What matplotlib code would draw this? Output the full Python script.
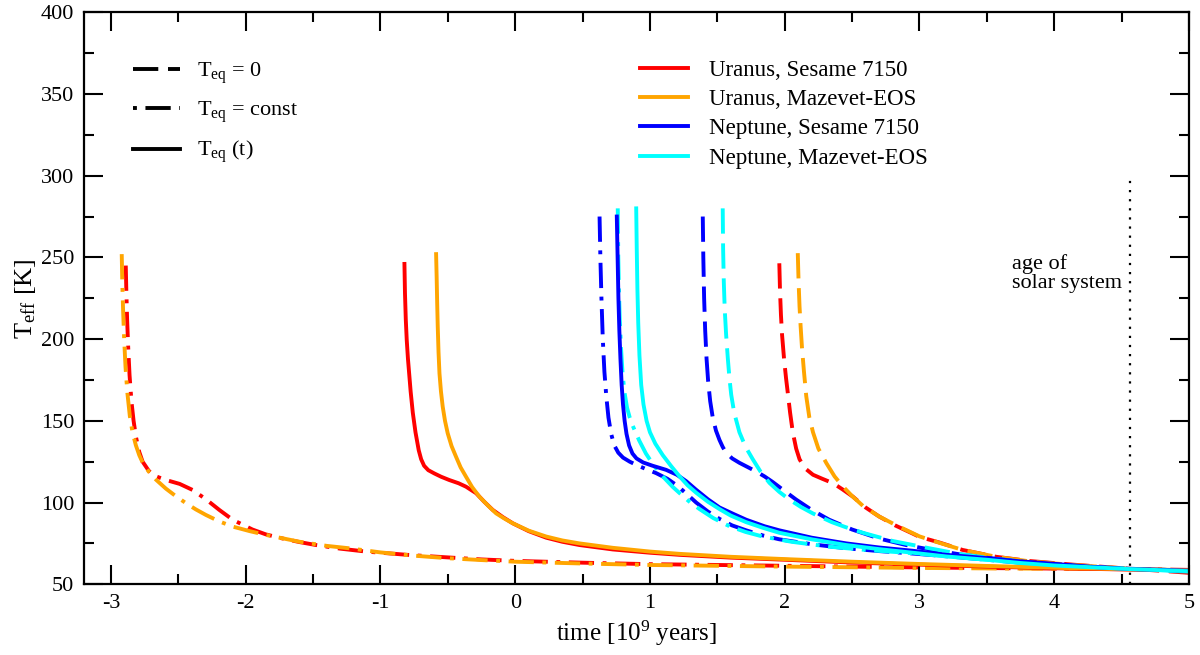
import matplotlib
matplotlib.use('Agg')
import matplotlib.pyplot as plt
from matplotlib.lines import Line2D
from matplotlib.ticker import MultipleLocator

plt.rcParams['font.family'] = 'serif'
plt.rcParams['font.serif'] = ['Liberation Serif', 'DejaVu Serif']
plt.rcParams['mathtext.fontset'] = 'custom'
plt.rcParams['mathtext.rm'] = 'Liberation Serif'
plt.rcParams['mathtext.it'] = 'Liberation Serif:italic'
plt.rcParams['axes.unicode_minus'] = False

# ---- data: time [Gyr], Teff [K] ----
# Uranus, Sesame 7150  (_0: Teq = 0, _c: Teq = const, _t: Teq(t))
ur_ses_0_t = [1.96, 1.965, 1.972, 1.98, 1.995, 2.01, 2.023, 2.04, 2.06, 2.085, 2.11, 2.15, 2.21, 2.28, 2.36, 2.43, 2.506, 2.6, 2.7, 2.82, 2.95, 3.0, 3.15, 3.32, 3.57, 3.82, 4.14, 4.56, 4.8, 5.0]
ur_ses_0_T = [246.4, 230, 215, 203, 188, 176, 167, 155, 143, 133, 126.5, 121, 117, 114.5, 111.8, 108, 103.6, 97, 91.5, 86, 81, 79, 75.5, 71, 66.8, 64.2, 62, 59.5, 58.2, 57]
ur_ses_c_t = [-2.89, -2.886, -2.88, -2.872, -2.862, -2.848, -2.832, -2.814, -2.79, -2.765, -2.72, -2.68, -2.6, -2.49, -2.394, -2.295, -2.196, -2.097, -1.95, -1.85, -1.726, -1.6, -1.478, -1.3, -1.107, -0.8, -0.513, -0.25, 0, 0.5, 1, 1.5, 2, 2.5, 3, 3.5, 4, 4.56, 5]
ur_ses_c_T = [245, 230, 212, 195, 178, 162, 150, 140, 131, 125, 119.5, 116.5, 114, 111.4, 107.7, 102, 95.5, 89.5, 83.5, 80.5, 78, 75.8, 74, 71.8, 70, 68, 66.5, 65.2, 64.3, 63.2, 62.3, 61.8, 61.3, 60.8, 60.3, 59.9, 59.6, 59.3, 58.8]
ur_ses_t_t = [-0.822, -0.818, -0.812, -0.805, -0.796, -0.787, -0.776, -0.76, -0.74, -0.716, -0.698, -0.676, -0.645, -0.6, -0.55, -0.49, -0.42, -0.365, -0.29, -0.23, -0.167, -0.09, -0.018, 0.1, 0.23, 0.35, 0.477, 0.724, 1.0, 1.22, 1.6, 2, 2.5, 3, 3.5, 4, 4.56, 5]
ur_ses_t_T = [246, 228, 212, 199.5, 188, 179, 168, 155, 143, 132, 126.5, 122.5, 119.8, 117.8, 115.8, 113.8, 111.8, 109.7, 105.7, 100.5, 95.5, 91, 87.3, 82.5, 78.5, 76, 74, 71.3, 69.3, 68, 66.3, 65, 63.3, 62, 60.8, 59.8, 59, 58.5]

# Uranus, Mazevet-EOS
ur_maz_0_t = [2.097, 2.103, 2.11, 2.118, 2.128, 2.143, 2.16, 2.183, 2.21, 2.25, 2.31, 2.37, 2.43, 2.5, 2.58, 2.7, 2.83, 3.0, 3.15, 3.32, 3.57, 3.82, 4.14, 4.56, 5.0]
ur_maz_0_T = [252.6, 235, 220, 208, 195, 180, 165, 152, 143, 133, 124, 116, 110, 104, 98, 91.5, 86, 79.3, 75.3, 71, 66.8, 64, 61.8, 59.5, 58.3]
ur_maz_c_t = [-2.92, -2.916, -2.91, -2.902, -2.892, -2.878, -2.86, -2.84, -2.815, -2.79, -2.765, -2.72, -2.666, -2.592, -2.52, -2.443, -2.37, -2.295, -2.2, -2.097, -1.97, -1.85, -1.6, -1.4, -1.23, -1.0, -0.75, -0.513, -0.25, 0, 0.5, 1, 1.5, 2, 2.5, 3, 3.5, 4, 4.56, 5]
ur_maz_c_T = [252, 235, 218, 200, 183, 167, 153, 143, 135, 129, 124.5, 119, 114, 108.5, 104, 99.6, 95.8, 92.4, 88.6, 85.3, 82.5, 80.2, 76, 73.5, 72, 69.5, 67.5, 66, 64.8, 63.8, 62.7, 61.8, 61.3, 60.8, 60.4, 60, 59.7, 59.5, 59.2, 58.6]
ur_maz_t_t = [-0.587, -0.583, -0.579, -0.575, -0.569, -0.562, -0.551, -0.538, -0.521, -0.501, -0.472, -0.439, -0.405, -0.365, -0.32, -0.266, -0.2, -0.142, -0.08, -0.018, 0.1, 0.23, 0.35, 0.477, 0.724, 1.0, 1.22, 1.6, 2, 2.5, 3, 3.5, 4, 4.56, 5]
ur_maz_t_T = [252, 238, 222, 208, 192, 179, 168, 158.7, 150, 142.4, 134.5, 128, 121.5, 115.8, 109.5, 103.6, 98, 93.4, 90.2, 87.3, 82.8, 79.2, 76.8, 75, 72.3, 70, 68.6, 66.8, 65.4, 63.8, 62.4, 61.2, 60.1, 59.2, 58.6]

# Neptune, Sesame 7150
ne_ses_0_t = [1.392, 1.396, 1.402, 1.41, 1.42, 1.432, 1.447, 1.466, 1.49, 1.516, 1.54, 1.565, 1.61, 1.664, 1.73, 1.788, 1.85, 1.912, 2.0, 2.085, 2.2, 2.33, 2.5, 2.7, 2.9, 3.075, 3.3, 3.57, 3.8, 3.94, 4.2, 4.56, 5.0]
ne_ses_0_T = [275, 250, 225, 205, 188, 174, 162, 152, 144, 138.3, 134, 130.5, 127, 124.3, 121.5, 119, 116, 112.5, 107, 101.8, 95.5, 89.5, 83.5, 78, 74, 71.3, 68.3, 65.5, 63.5, 62.5, 61, 59.5, 58.3]
ne_ses_c_t = [0.626, 0.632, 0.64, 0.65, 0.662, 0.676, 0.692, 0.712, 0.735, 0.765, 0.8, 0.85, 0.9, 0.97, 1.046, 1.13, 1.2, 1.27, 1.343, 1.43, 1.516, 1.61, 1.714, 1.84, 1.96, 2.2, 2.457, 2.7, 2.95, 3.25, 3.5, 3.75, 4, 4.3, 4.56, 5]
ne_ses_c_T = [275, 250, 225, 200, 180, 165, 152, 142, 135, 130.5, 127.5, 125, 123, 120.5, 118, 114.5, 110.5, 105.5, 100, 94.5, 90, 86, 83, 79.8, 77.5, 74.5, 72, 70.3, 68.8, 66.8, 65, 63.2, 61.6, 60.3, 59.3, 58.5]
ne_ses_t_t = [0.754, 0.76, 0.766, 0.773, 0.781, 0.79, 0.8, 0.812, 0.826, 0.845, 0.87, 0.9, 0.95, 1.02, 1.12, 1.2, 1.27, 1.34, 1.43, 1.516, 1.62, 1.714, 1.85, 1.96, 2.2, 2.457, 2.7, 2.95, 3.2, 3.5, 3.75, 4, 4.3, 4.56, 5]
ne_ses_t_T = [275, 250, 225, 205, 188, 172, 160, 150, 142, 135, 130, 127, 124.5, 122.5, 120, 117, 113, 108, 102, 97, 93, 89.5, 85.5, 83, 78.5, 75, 72.5, 70.5, 68, 66, 64, 62.5, 60.5, 59.3, 58.3]

# Neptune, Mazevet-EOS
ne_maz_0_t = [1.54, 1.543, 1.548, 1.555, 1.565, 1.578, 1.59, 1.603, 1.625, 1.664, 1.71, 1.763, 1.82, 1.887, 1.96, 2.035, 2.12, 2.21, 2.35, 2.45, 2.58, 2.8, 3.075, 3.3, 3.57, 3.8, 4, 4.3, 4.56, 4.9, 5.0]
ne_maz_0_T = [280, 255, 235, 218, 203, 188, 176, 166, 155, 143, 134, 126.5, 119, 112, 106.5, 101.8, 97.3, 93.3, 88, 85, 81.5, 76.5, 72, 68.5, 65.5, 63.5, 62, 60.5, 59.5, 58, 57.8]
ne_maz_c_t = [0.761, 0.765, 0.77, 0.776, 0.785, 0.796, 0.81, 0.83, 0.85, 0.872, 0.92, 0.97, 1.03, 1.095, 1.17, 1.244, 1.3, 1.368, 1.47, 1.59, 1.71, 1.837, 2.05, 2.33, 2.6, 2.95, 3.25, 3.5, 3.75, 4, 4.3, 4.56, 5]
ne_maz_c_T = [280, 250, 230, 212, 195, 180, 168, 158, 152, 147, 138, 130, 122.5, 116, 109.5, 104, 100, 96, 90.5, 85.5, 82, 79.2, 76, 73, 71, 69, 66.8, 65, 63.2, 61.5, 60.2, 59.3, 58]
ne_maz_t_t = [0.898, 0.902, 0.907, 0.913, 0.922, 0.935, 0.952, 0.975, 1.0, 1.04, 1.095, 1.16, 1.22, 1.28, 1.343, 1.43, 1.516, 1.6, 1.714, 1.84, 1.96, 2.2, 2.457, 2.7, 2.95, 3.2, 3.5, 3.75, 4, 4.3, 4.56, 5]
ne_maz_t_T = [280, 255, 230, 210, 190, 172, 160, 150, 143, 136, 129, 122, 116, 110.5, 106, 100.5, 96, 92, 88, 84.5, 81.5, 77.5, 74, 71.5, 69.3, 67, 65, 63, 61.5, 60.3, 59.3, 58]

solar_age = 4.56
solar_age_ymax = 300

model_labels = ['Uranus, Sesame 7150', 'Uranus, Mazevet-EOS', 'Neptune, Sesame 7150', 'Neptune, Mazevet-EOS']
model_colors = ['#ff0000', '#ffa500', '#0000ff', '#00ffff']
style_labels = [r'T$_{\mathrm{eq}}$ = 0', r'T$_{\mathrm{eq}}$ = const', r'T$_{\mathrm{eq}}$ (t)']

DASHED = (0, (6.5, 2.5))
DASHDOT = (0, (6.5, 2.2, 1, 2.2))
SOLID = '-'
LW = 2.8

fig = plt.figure(figsize=(12, 6.55), dpi=100)
ax = fig.add_axes([0.07, 0.108, 0.9208, 0.8733])

curves = [
    (ur_ses_0_t, ur_ses_0_T, 0, DASHED), (ur_maz_0_t, ur_maz_0_T, 1, DASHED),
    (ne_ses_0_t, ne_ses_0_T, 2, DASHED), (ne_maz_0_t, ne_maz_0_T, 3, DASHED),
    (ur_ses_c_t, ur_ses_c_T, 0, DASHDOT), (ur_maz_c_t, ur_maz_c_T, 1, DASHDOT),
    (ne_ses_c_t, ne_ses_c_T, 2, DASHDOT), (ne_maz_c_t, ne_maz_c_T, 3, DASHDOT),
    (ur_ses_t_t, ur_ses_t_T, 0, SOLID), (ur_maz_t_t, ur_maz_t_T, 1, SOLID),
    (ne_ses_t_t, ne_ses_t_T, 2, SOLID), (ne_maz_t_t, ne_maz_t_T, 3, SOLID),
]
for t, T, i, ls in curves:
    ax.plot(t, T, color=model_colors[i], lw=LW, ls=ls,
            solid_joinstyle='round', dash_joinstyle='round')

ax.vlines(solar_age, 50, solar_age_ymax, colors='k', lw=1.6, linestyles=(0, (1, 3.1)))
ax.text(3.69, 228, 'age of\nsolar system', ha='left', va='bottom', fontsize=16, linespacing=1.05)

ax.set_xlim(-3.2, 5)
ax.set_ylim(50, 400)
ax.xaxis.set_major_locator(MultipleLocator(1))
ax.xaxis.set_minor_locator(MultipleLocator(0.5))
ax.yaxis.set_major_locator(MultipleLocator(50))
ax.yaxis.set_minor_locator(MultipleLocator(25))
ax.tick_params(which='both', direction='in', top=True, right=True, width=1.5, labelsize=16)
ax.tick_params(which='major', length=13.5, pad=7)
ax.tick_params(which='minor', length=7)
for sp in ax.spines.values():
    sp.set_linewidth(1.6)

ax.set_xlabel(r'time [10$^9$ years]', fontsize=18, labelpad=4)
ax.set_ylabel(r'T$_{\mathrm{eff}}$ [K]', fontsize=19, labelpad=2)

# legend handle for dash-dot starts on the dot, like the original key
style_handles = [Line2D([], [], color='k', lw=LW, ls=s)
                 for s in (DASHED, (8.7, (6.5, 2.2, 1, 2.2)), SOLID)]
leg1 = ax.legend(style_handles, style_labels, loc='upper left', bbox_to_anchor=(0.0443, 0.916),
                 frameon=False, fontsize=16, handlelength=2.1, handletextpad=0.8,
                 labelspacing=0.62, borderpad=0, borderaxespad=0)
ax.add_artist(leg1)
model_handles = [Line2D([], [], color=c, lw=LW) for c in model_colors]
ax.legend(model_handles, model_labels, loc='upper left', bbox_to_anchor=(0.503, 0.916),
          frameon=False, fontsize=16.5, handlelength=2.1, handletextpad=0.9,
          labelspacing=0.35, borderpad=0, borderaxespad=0)

fig.savefig('out.png', dpi=100)
